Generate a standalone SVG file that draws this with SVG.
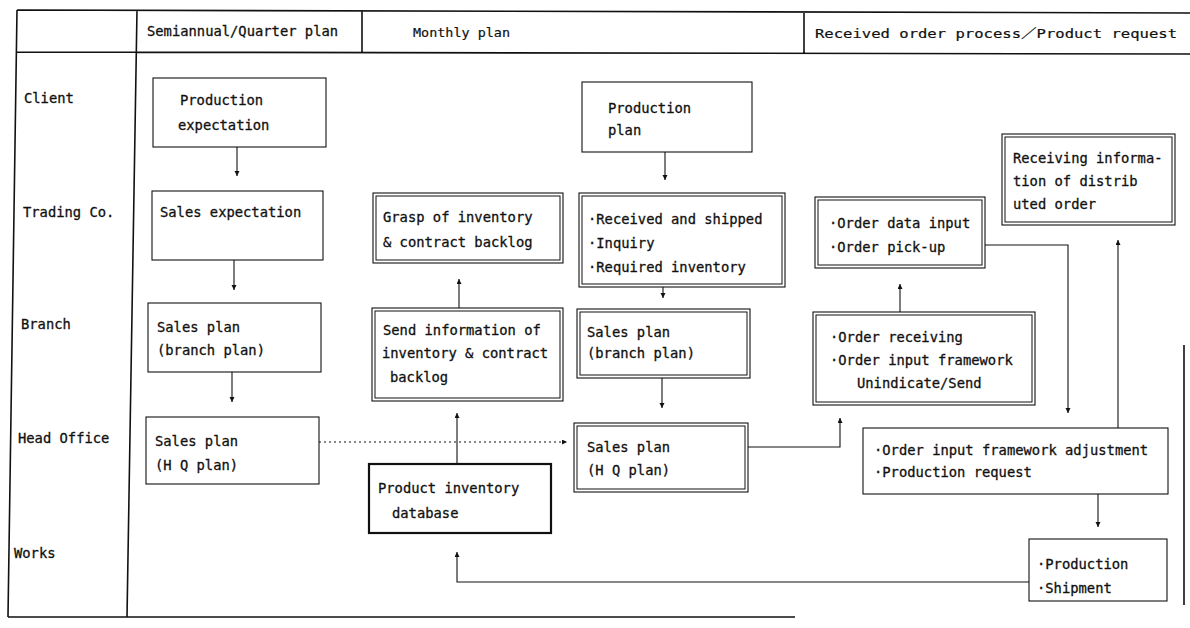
<svg xmlns="http://www.w3.org/2000/svg" width="1190" height="628" viewBox="0 0 1190 628">
<defs>
<marker id="ah" markerWidth="6" markerHeight="6" refX="5" refY="2.5" orient="auto" markerUnits="userSpaceOnUse">
<path d="M0,0 L5,2.5 L0,5 z" fill="#111"/>
</marker>
<style>
text{font-family:"DejaVu Sans Mono","Liberation Mono","Noto Sans CJK JP",monospace;font-size:13.8px;fill:#111;stroke:#111;stroke-width:0.3}
.hd{font-size:13px;stroke-width:0.2}
.frame{fill:none;stroke:#111;stroke-width:1.6}
.box{fill:#fff;stroke:#111;stroke-width:1.1}
.inner{fill:none;stroke:#111;stroke-width:1}
.thick{fill:#fff;stroke:#111;stroke-width:2.2}
.con{fill:none;stroke:#111;stroke-width:1.1;marker-end:url(#ah)}
.dot{stroke-dasharray:2,3}
</style>
</defs>
<rect width="1190" height="628" fill="#fff"/>
<g id="lanes">
<path class="frame" d="M17,10 L1190,13 M17,52 L1190,54 M17,10 L8,617 M137,10 L127,617 M362,11 V52 M804,12 V53 M8,617 H795 M1184,345 V605"/>
<text x="147" y="36">Semiannual/Quarter plan</text>
<text class="hd" x="413" y="37" textLength="97" lengthAdjust="spacingAndGlyphs">Monthly plan</text>
<text class="hd" x="815" y="38" textLength="362" lengthAdjust="spacingAndGlyphs">Received order process／Product request</text>
<text x="24" y="103">Client</text>
<text x="23" y="217">Trading Co.</text>
<text x="21" y="329">Branch</text>
<text x="18" y="443">Head Office</text>
<text x="14" y="558">Works</text>
</g>
<g id="connectors">
<path class="con" d="M237,147 V176"/>
<path class="con" d="M234,260 V290"/>
<path class="con" d="M232,372 V402"/>
<path class="con dot" d="M319,442 H567"/>
<path class="con" d="M457,464 V413"/>
<path class="con" d="M459,308 V279"/>
<path class="con" d="M665,152 V180"/>
<path class="con" d="M663,287 V298"/>
<path class="con" d="M662,378 V408"/>
<path class="con" d="M748,447 H840 V418"/>
<path class="con" d="M900,312 V284"/>
<path class="con" d="M985,245 H1068 V413"/>
<path class="con" d="M1118,428 V240"/>
<path class="con" d="M1098,494 V527"/>
<path class="con" d="M1029,582 H457 V552"/>
</g>
<g id="n-prod-expect">
<rect class="box" x="153" y="78" width="173" height="69"/>
<text x="180" y="105">Production</text>
<text x="178" y="130">expectation</text>
</g>
<g id="n-sales-expect">
<rect class="box" x="152" y="191" width="171" height="69"/>
<text x="160" y="217">Sales expectation</text>
</g>
<g id="n-sales-branch-semi">
<rect class="box" x="148" y="303" width="173" height="69"/>
<text x="157" y="332">Sales plan</text>
<text x="157" y="355">(branch plan)</text>
</g>
<g id="n-sales-hq-semi">
<rect class="box" x="146" y="417" width="173" height="67"/>
<text x="155" y="446">Sales plan</text>
<text x="155" y="470">(H Q plan)</text>
</g>
<g id="n-grasp">
<rect class="box" x="373" y="193" width="190" height="70"/>
<rect class="inner" x="376" y="196" width="184" height="64"/>
<text x="383" y="222">Grasp of inventory</text>
<text x="383" y="247">&amp; contract backlog</text>
</g>
<g id="n-send-info">
<rect class="box" x="372" y="308" width="191" height="93"/>
<rect class="inner" x="375" y="311" width="185" height="87"/>
<text x="383" y="335">Send information of</text>
<text x="382" y="358">inventory &amp; contract</text>
<text x="390" y="382">backlog</text>
</g>
<g id="n-db">
<rect class="thick" x="369" y="464" width="182" height="69"/>
<text x="378" y="493">Product inventory</text>
<text x="392" y="518">database</text>
</g>
<g id="n-prod-plan">
<rect class="box" x="582" y="82" width="170" height="70"/>
<text x="608" y="113">Production</text>
<text x="608" y="135">plan</text>
</g>
<g id="n-received-shipped">
<rect class="box" x="579" y="193" width="206" height="94"/>
<rect class="inner" x="582" y="196" width="200" height="88"/>
<text x="588" y="224">·Received and shipped</text>
<text x="588" y="248">·Inquiry</text>
<text x="588" y="272">·Required inventory</text>
</g>
<g id="n-sales-branch-month">
<rect class="box" x="577" y="309" width="173" height="69"/>
<rect class="inner" x="580" y="312" width="167" height="63"/>
<text x="587" y="337">Sales plan</text>
<text x="587" y="358">(branch plan)</text>
</g>
<g id="n-sales-hq-month">
<rect class="box" x="574" y="423" width="174" height="69"/>
<rect class="inner" x="577" y="426" width="168" height="63"/>
<text x="587" y="452">Sales plan</text>
<text x="587" y="475">(H Q plan)</text>
</g>
<g id="n-order-data">
<rect class="box" x="815" y="197" width="170" height="71"/>
<rect class="inner" x="818" y="200" width="164" height="65"/>
<text x="829" y="228">·Order data input</text>
<text x="829" y="252">·Order pick-up</text>
</g>
<g id="n-receiving-info">
<rect class="box" x="1002" y="134" width="173" height="91"/>
<rect class="inner" x="1005" y="137" width="167" height="85"/>
<text x="1013" y="163">Receiving informa-</text>
<text x="1013" y="186">tion of distrib</text>
<text x="1013" y="209">uted order</text>
</g>
<g id="n-order-receiving">
<rect class="box" x="813" y="312" width="222" height="93"/>
<rect class="inner" x="816" y="315" width="216" height="87"/>
<text x="830" y="342">·Order receiving</text>
<text x="830" y="365">·Order input framework</text>
<text x="857" y="388">Unindicate/Send</text>
</g>
<g id="n-adjust">
<rect class="box" x="863" y="428" width="305" height="66"/>
<text x="874" y="455">·Order input framework adjustment</text>
<text x="874" y="477">·Production request</text>
</g>
<g id="n-production">
<rect class="box" x="1029" y="539" width="138" height="62"/>
<text x="1037" y="569">·Production</text>
<text x="1037" y="593">·Shipment</text>
</g>
</svg>
